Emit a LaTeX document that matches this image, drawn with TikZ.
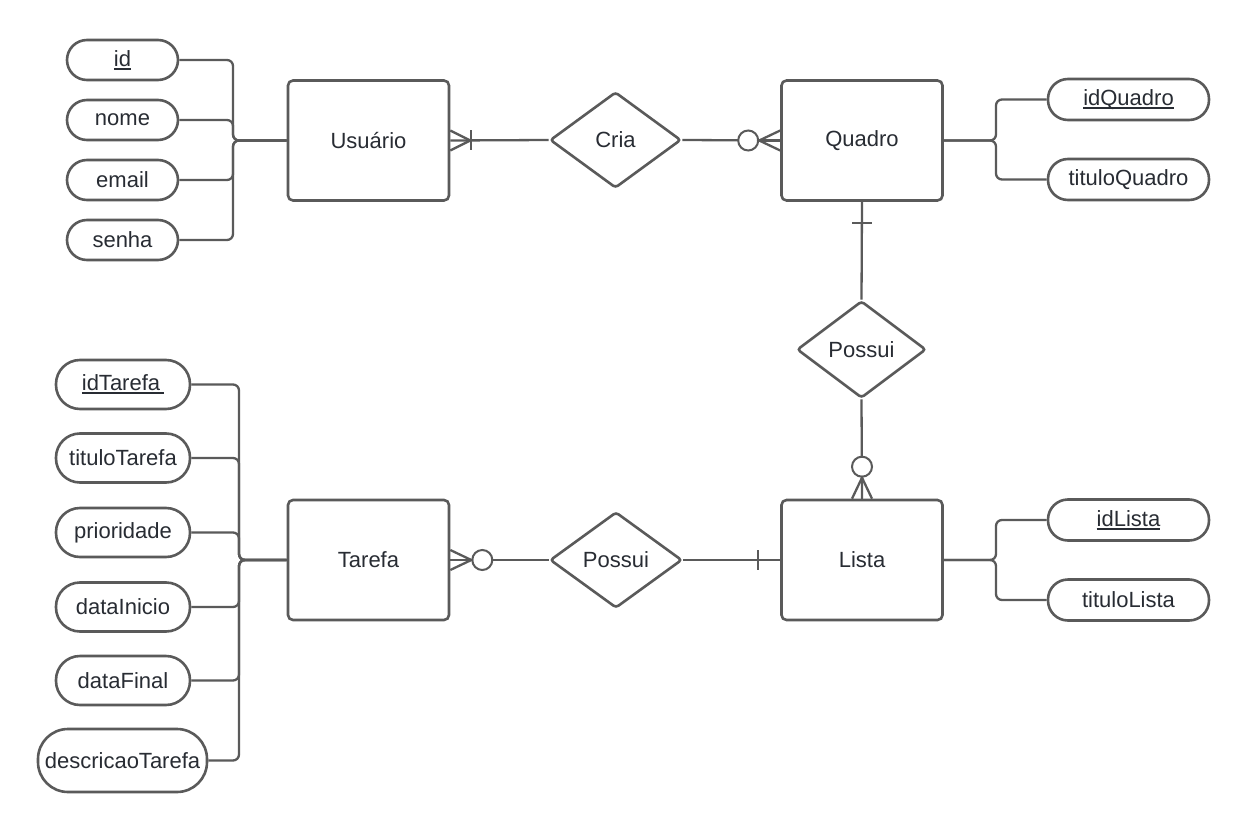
\documentclass[tikz,border=0pt]{standalone}
\usepackage{fontspec}
\setmainfont{Liberation Sans}
\usetikzlibrary{shapes.geometric,calc}
\definecolor{ln}{HTML}{5A5A5A}
\definecolor{tx}{HTML}{282C33}
\newsavebox\ulbox
\newcommand\myul[2][0pt]{\sbox\ulbox{#2\hspace{#1}}\rlap{\rule[-3.2pt]{\wd\ulbox}{1.6pt}}\usebox\ulbox}
\begin{document}
\begin{tikzpicture}[x=1pt,y=-1pt, font=\fontsize{22}{26}\selectfont, text=tx,
  ent/.style={draw=ln, line width=2.6pt, rounded corners=5pt, minimum width=161pt, minimum height=120pt, inner sep=0pt, fill=white},
  rel/.style={draw=ln, line width=2.6pt, diamond, aspect=1.36, minimum width=131pt, minimum height=96pt, inner sep=0pt, rounded corners=3pt, fill=white},
  attr/.style={draw=ln, line width=2.6pt, minimum width=111pt, minimum height=40pt, rounded corners=20pt, inner sep=0pt, fill=white},
  tattr/.style={attr, minimum width=134pt, minimum height=49pt, rounded corners=24pt},
  qattr/.style={attr, minimum width=161pt, minimum height=41pt},
  conn/.style={draw=ln, line width=2.3pt},
  bus/.style={conn, rounded corners=6pt},
  zero/.style={circle, draw=ln, line width=2pt, minimum size=20pt, inner sep=0pt, fill=white}]
\useasboundingbox (0,0) rectangle (1250,832);
\fill[white] (0,0) rectangle (1250,832);

% entities
\node[ent] (usu) at (368.5,140.5) {Usuário};
\node[ent] (quad) at (862,140.5) {Quadro};
\node[ent] (tar) at (368.5,560) {Tarefa};
\node[ent] (lista) at (862,560) {Lista};

% relationships
\node[rel] (cria) at (615.5,140) {Cria};
\node[rel, minimum width=129pt, minimum height=97pt] (pos1) at (861.5,349.5) {Possui};
\node[rel, minimum width=132pt] (pos2) at (616,560) {Possui};

% Usuario attributes
\node[attr] (a1) at (122.5,60) {\myul{id}};
\node[attr] (a2) at (122.5,120) {nome};
\node[attr] (a3) at (122.5,180) {email};
\node[attr] (a4) at (122.5,240) {senha};
\coordinate (ju) at (233,140.5);
\foreach \a in {a1,a2,a3,a4} \draw[bus] (\a.east) -| (ju) -- (usu.west);

% Quadro attributes
\node[qattr] (q1) at (1128.5,99.5) {\myul{idQuadro}};
\node[qattr] (q2) at (1128.5,179.5) {tituloQuadro};
\coordinate (jq) at (996,140.5);
\foreach \a in {q1,q2} \draw[bus] (\a.west) -| (jq) -- (quad.east);

% Lista attributes
\node[qattr] (l1) at (1128.5,520) {\myul{idLista}};
\node[qattr] (l2) at (1128.5,600) {tituloLista};
\coordinate (jl) at (996,560);
\foreach \a in {l1,l2} \draw[bus] (\a.west) -| (jl) -- (lista.east);

% Tarefa attributes
\node[tattr] (t1) at (123,384.5) {\myul[4pt]{idTarefa}};
\node[tattr] (t2) at (123,458) {tituloTarefa};
\node[tattr] (t3) at (123,532.5) {prioridade};
\node[tattr] (t4) at (123,607) {dataInicio};
\node[tattr] (t5) at (123,680.5) {dataFinal};
\node[tattr, minimum width=169pt, minimum height=63pt, rounded corners=30pt] (t6) at (122.5,760.5) {descricaoTarefa};
\coordinate (jt) at (239,560);
\foreach \a in {t1,t2,t3,t4,t5,t6} \draw[bus] (\a.east) -| (jt) -- (tar.west);

% Usuario -- Cria -- Quadro
\draw[conn] (usu.east) -- (cria.west);
\draw[conn] ($(usu.east)+(0,-10)$) -- ($(usu.east)+(20,0)$) -- ($(usu.east)+(0,10)$);
\draw[conn] ($(usu.east)+(21,-10)$) -- ($(usu.east)+(21,10)$);
\draw[conn] (cria.east) -- (quad.west);
\node[zero] (z1) at ($(quad.west)+(-32,0)$) {};
\draw[conn] ($(quad.west)+(0,-10)$) -- (z1.east) -- ($(quad.west)+(0,10)$);
\draw[conn] (z1.east) -- (quad.west);

% Quadro -- Possui -- Lista
\draw[conn] (quad.south) -- (pos1.north);
\draw[conn] ($(quad.south)+(-10,21)$) -- ($(quad.south)+(10,21)$);
\draw[conn] (pos1.south) -- (lista.north);
\node[zero] (z2) at ($(lista.north)+(0,-32)$) {};
\draw[conn] ($(lista.north)+(-10,0)$) -- (z2.south) -- ($(lista.north)+(10,0)$);
\draw[conn] (z2.south) -- (lista.north);

% Tarefa -- Possui -- Lista
\draw[conn] (tar.east) -- (pos2.west);
\node[zero] (z3) at ($(tar.east)+(32,0)$) {};
\draw[conn] ($(tar.east)+(0,-10)$) -- (z3.west) -- ($(tar.east)+(0,10)$);
\draw[conn] (tar.east) -- (z3.west);
\draw[conn] (pos2.east) -- (lista.west);
\draw[conn] ($(lista.west)+(-22,-10)$) -- ($(lista.west)+(-22,10)$);
\end{tikzpicture}
\end{document}
